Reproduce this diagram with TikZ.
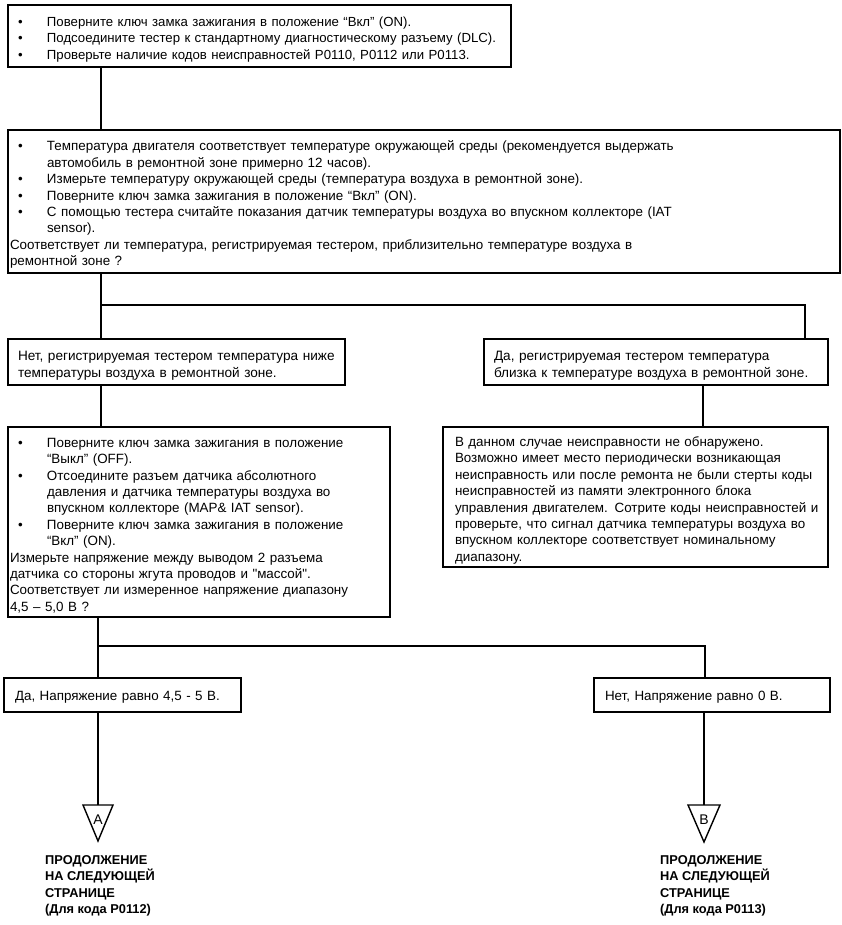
\documentclass[tikz,border=0pt]{standalone}
\usepackage{fontspec}
\setmainfont{Liberation Sans}
\newcommand\bitem[1]{\par\noindent\hangindent=37pt\hangafter=1\makebox[37pt][l]{\hspace{8pt}\textbullet}#1\par}
\newcommand\ptext[2][0pt]{\par\noindent\hangindent=#1\hangafter=0 #2\par}
\begin{document}
\begin{tikzpicture}[x=1pt,y=-1pt,
  box/.style={draw, line width=1.7pt, anchor=north west, inner sep=0pt, outer sep=0pt, align=left,
    font=\fontsize{13.4}{16.4}\selectfont},
  conn/.style={line width=1.4pt},
  tri/.style={line width=1.4pt},
  letter/.style={font=\fontsize{14}{14}\selectfont, inner sep=0pt},
  cont/.style={anchor=north west, align=left, inner sep=0pt, font=\bfseries\fontsize{12.8}{16.5}\selectfont}]
\useasboundingbox (0,0) rectangle (842,925);

\node[box, minimum width=503pt, minimum height=62pt, text width=499pt, font=\fontsize{13.2}{16.4}\selectfont] (b1) at (8,5) {%
\bitem{Поверните ключ замка зажигания в положение “Вкл” (ON).}
\bitem{Подсоедините тестер к стандартному диагностическому разъему (DLC).}
\bitem{Проверьте наличие кодов неисправностей P0110, P0112 или P0113.}};

\node[box, minimum width=832pt, minimum height=143pt, text width=828pt] (b2) at (8,130) {%
\bitem{Температура двигателя соответствует температуре окружающей среды (рекомендуется выдержать\newline автомобиль в ремонтной зоне примерно 12 часов).}
\bitem{Измерьте температуру окружающей среды (температура воздуха в ремонтной зоне).}
\bitem{Поверните ключ замка зажигания в положение “Вкл” (ON).}
\bitem{С помощью тестера считайте показания датчик температуры воздуха во впускном коллекторе (IAT\newline sensor).}
\ptext{Соответствует ли температура, регистрируемая тестером, приблизительно температуре воздуха в\newline ремонтной зоне ?}};

\node[box, minimum width=337pt, minimum height=46pt, text width=333pt, font=\fontsize{13.6}{16.6}\selectfont] (b3l) at (8,339) {%
\ptext[8pt]{Нет, регистрируемая тестером температура ниже\newline температуры воздуха в ремонтной зоне.}};

\node[box, minimum width=344pt, minimum height=46pt, text width=340pt, font=\fontsize{13.6}{16.6}\selectfont] (b3r) at (484,339) {%
\ptext[8pt]{Да, регистрируемая тестером температура\newline близка к температуре воздуха в ремонтной зоне.}};

\node[box, minimum width=382pt, minimum height=190pt, text width=378pt] (b4l) at (8,427) {%
\bitem{Поверните ключ замка зажигания в положение\newline “Выкл” (OFF).}
\bitem{Отсоедините разъем датчика абсолютного\newline давления и датчика температуры воздуха во\newline впускном коллекторе (MAP\& IAT sensor).}
\bitem{Поверните ключ замка зажигания в положение\newline “Вкл” (ON).}
\ptext{Измерьте напряжение между выводом 2 разъема\newline датчика со стороны жгута проводов и \textquotedbl массой\textquotedbl.\newline Соответствует ли измеренное напряжение диапазону\newline 4,5 – 5,0 В ?}};

\node[box, minimum width=385pt, minimum height=140pt, text width=381pt] (b4r) at (443,427) {%
\ptext[10pt]{В данном случае неисправности не обнаружено.\newline Возможно имеет место периодически возникающая\newline неисправность или после ремонта не были стерты коды\newline неисправностей из памяти электронного блока\newline управления двигателем. Сотрите коды неисправностей и\newline проверьте, что сигнал датчика температуры воздуха во\newline впускном коллекторе соответствует номинальному\newline диапазону.}};

\node[box, minimum width=237pt, minimum height=34pt, text width=233pt] (b5l) at (4,678) {%
\ptext[9pt]{\raisebox{2pt}{Да, Напряжение равно 4,5 - 5 В.}}};

\node[box, minimum width=236pt, minimum height=34pt, text width=232pt] (b5r) at (594,678) {%
\ptext[9pt]{\raisebox{2pt}{Нет, Напряжение равно 0 В.}}};

% junction coordinates
\coordinate (j1) at (101,305);
\coordinate (j1r) at (805,305);
\coordinate (j2) at (98,646);
\coordinate (j2r) at (705,646);
\coordinate (c3r) at (703,0);

% triangles
\coordinate (tA) at (98,805);
\coordinate (tB) at (704,805);
\draw[tri] (tA) ++(-15,0) -- ++(30,0) -- ++(-15,36) -- cycle;
\draw[tri] (tB) ++(-16,0) -- ++(32,0) -- ++(-16,37) -- cycle;
\node[letter] (lA) at (98,820) {A};
\node[letter] (lB) at (704,819.5) {B};

% connectors
\draw[conn] (b1.south -| j1) -- (b2.north -| j1);
\draw[conn] (b2.south -| j1) -- (j1) -- (j1r) -- (b3r.north -| j1r);
\draw[conn] (j1) -- (b3l.north -| j1);
\draw[conn] (b3l.south -| j1) -- (b4l.north -| j1);
\draw[conn] (b3r.south -| c3r) -- (b4r.north -| c3r);
\draw[conn] (b4l.south -| j2) -- (j2) -- (j2r) -- (b5r.north -| j2r);
\draw[conn] (j2) -- (b5l.north -| j2);
\draw[conn] (b5l.south -| tA) -- (tA);
\draw[conn] (b5r.south -| tB) -- (tB);

% continuation notes
\node[cont] (nA) at (45,855) {ПРОДОЛЖЕНИЕ\\НА СЛЕДУЮЩЕЙ\\СТРАНИЦЕ\\(Для кода P0112)};
\node[cont] (nB) at (660,855) {ПРОДОЛЖЕНИЕ\\НА СЛЕДУЮЩЕЙ\\СТРАНИЦЕ\\(Для кода P0113)};
\end{tikzpicture}
\end{document}
